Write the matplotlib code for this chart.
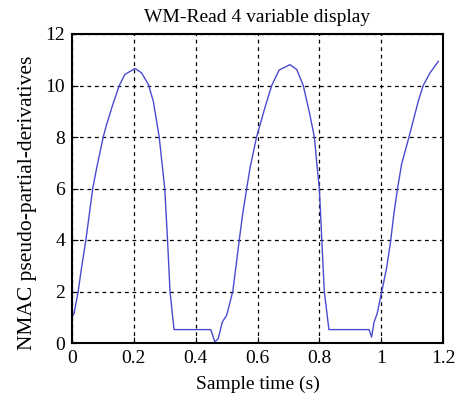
import matplotlib
matplotlib.use("Agg")
import matplotlib.pyplot as plt

t = [0.0, 0.0065, 0.020, 0.031, 0.045, 0.056, 0.067, 0.080, 0.101, 0.112, 0.132,
     0.153, 0.171, 0.204, 0.225, 0.247, 0.263, 0.282, 0.300, 0.309, 0.317, 0.330,
     0.449, 0.462, 0.473, 0.486, 0.500, 0.520, 0.530, 0.541, 0.552, 0.565, 0.576,
     0.597, 0.624, 0.646, 0.670, 0.705, 0.727, 0.748, 0.767, 0.784, 0.791, 0.800,
     0.808, 0.816, 0.831, 0.961, 0.969, 0.977, 0.987, 1.002, 1.018, 1.031, 1.041,
     1.053, 1.066, 1.090, 1.120, 1.136, 1.158, 1.185]
v = [1.0, 1.14, 2.0, 2.94, 4.0, 5.0, 6.0, 6.81, 8.0, 8.49, 9.26,
     10.0, 10.43, 10.66, 10.49, 10.04, 9.39, 8.0, 6.0, 4.0, 2.0, 0.52,
     0.52, 0.04, 0.17, 0.81, 1.07, 2.0, 2.94, 4.0, 5.0, 6.0, 6.81,
     8.0, 9.14, 10.0, 10.6, 10.81, 10.62, 10.0, 9.0, 8.0, 7.07, 6.0,
     4.0, 2.0, 0.52, 0.52, 0.23, 0.81, 1.14, 2.0, 2.94, 4.0, 5.0,
     6.0, 6.94, 8.0, 9.39, 10.0, 10.49, 10.94]

xticks = [0, 0.2, 0.4, 0.6, 0.8, 1.0, 1.2]
xticklabels = ["0", "0.2", "0.4", "0.6", "0.8", "1", "1.2"]
yticks = [0, 2, 4, 6, 8, 10, 12]

plt.rcParams['font.family'] = ['Liberation Serif', 'DejaVu Serif']

fig = plt.figure(figsize=(4.59, 3.98), dpi=100)
ax = fig.add_axes([72/459, 1-343/398, (443-72)/459, (343-34)/398])
ax.plot(t, v, color='#4a4ad0', lw=1.0)
ax.set_xlim(0, 1.2)
ax.set_ylim(0, 12)
ax.set_xticks(xticks)
ax.set_xticklabels(xticklabels)
ax.set_yticks(yticks)
ax.grid(True, color='black', linestyle=(0, (3, 3)), lw=0.9)
ax.tick_params(direction='in', length=4, labelsize=14, colors='black', pad=5)
for s in ax.spines.values():
    s.set_linewidth(1.5)
ax.set_title("WM-Read 4 variable display", fontsize=14, pad=9)
ax.set_xlabel("Sample time (s)", fontsize=14, labelpad=6)
ax.set_ylabel("NMAC pseudo-partial-derivatives", fontsize=15.5)
ax.yaxis.set_label_coords(-0.119, 0.453)
ax.yaxis.label.set_va('center')
fig.savefig("out.png", dpi=100)
